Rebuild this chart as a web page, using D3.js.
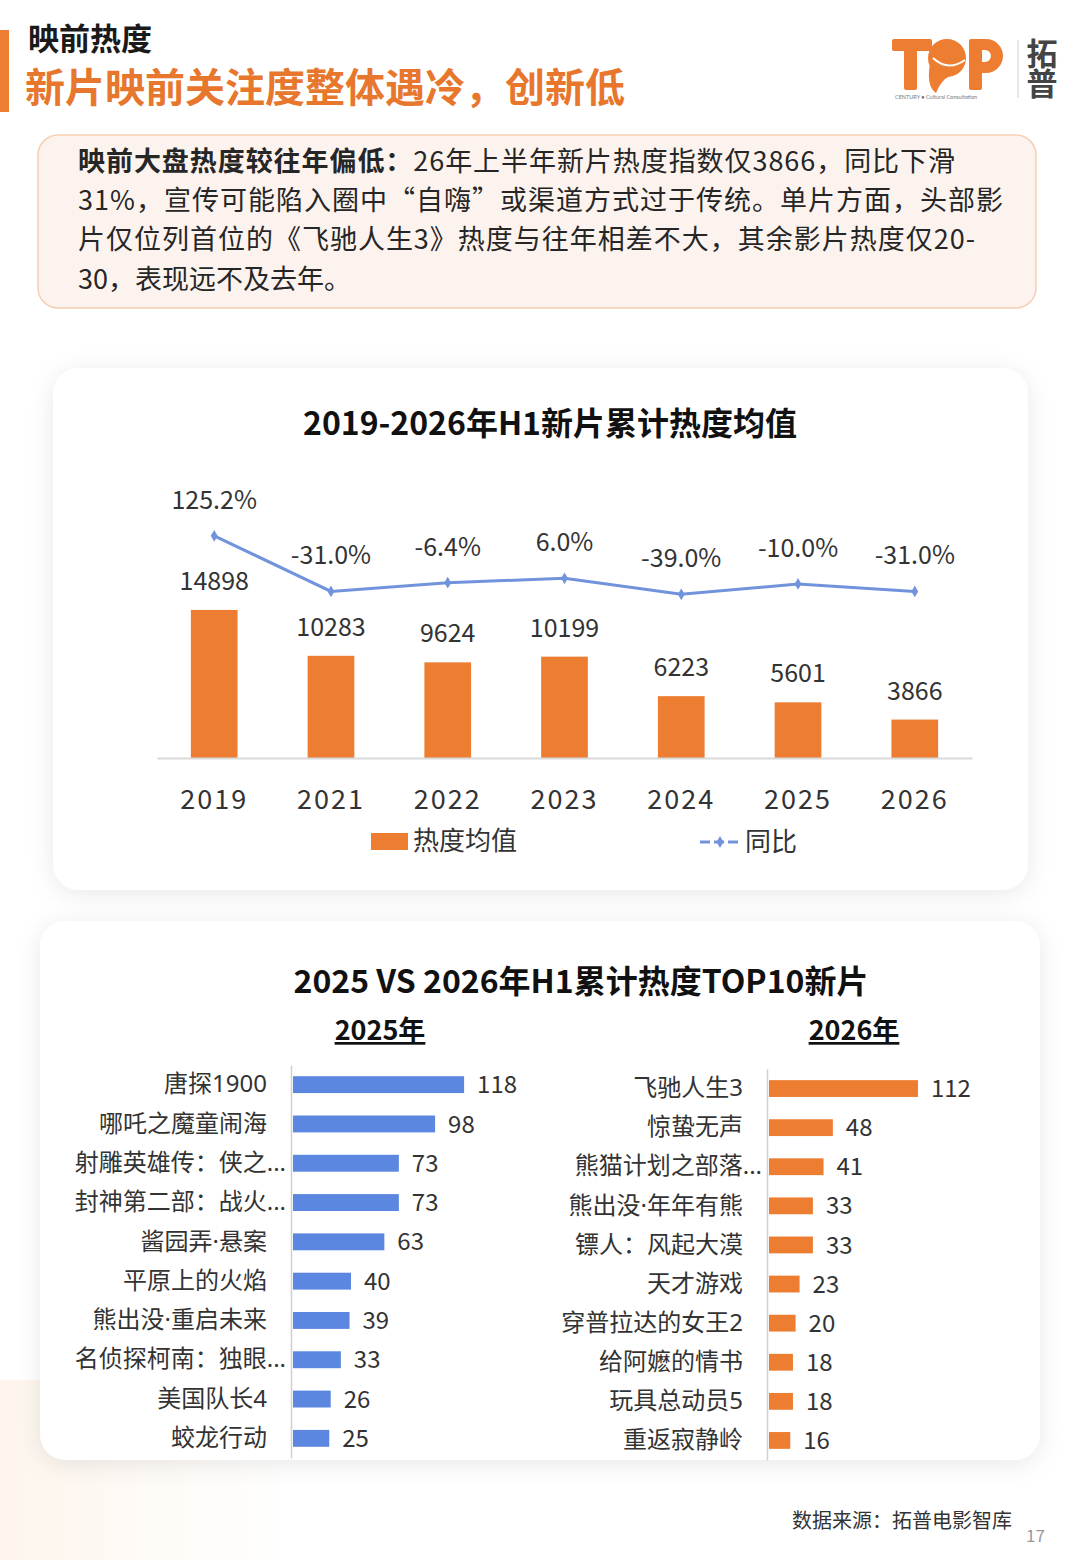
<!DOCTYPE html>
<html>
<head>
<meta charset="utf-8">
<script src="https://cdn.jsdelivr.net/npm/d3@7"></script>
<style>
  body { margin: 0; background: #fff; }
  svg { font-family: "Noto Sans CJK SC", "Noto Sans", sans-serif; }
</style>
</head>
<body>
<svg id="page"></svg>
<script>
// chart 1 data
var years = ["2019", "2021", "2022", "2023", "2024", "2025", "2026"];
var heatAvg = [14898, 10283, 9624, 10199, 6223, 5601, 3866];
var yoy = [125.2, -31.0, -6.4, 6.0, -39.0, -10.0, -31.0];

// chart 2 data
var films2025 = ["唐探1900", "哪吒之魔童闹海", "射雕英雄传：侠之...", "封神第二部：战火...", "酱园弄·悬案",
  "平原上的火焰", "熊出没·重启未来", "名侦探柯南：独眼...", "美国队长4", "蛟龙行动"];
var heat2025 = [118, 98, 73, 73, 63, 40, 39, 33, 26, 25];
var films2026 = ["飞驰人生3", "惊蛰无声", "熊猫计划之部落...", "熊出没·年年有熊", "镖人：风起大漠",
  "天才游戏", "穿普拉达的女王2", "给阿嬷的情书", "玩具总动员5", "重返寂静岭"];
var heat2026 = [112, 48, 41, 33, 33, 23, 20, 18, 18, 16];

var orange = "#ED7D31", blue = "#5B87E0", lineBlue = "#7193DC", ink = "#333";

var svg = d3.select("#page").attr("width", 1080).attr("height", 1560);

var defs = svg.append("defs");
var sh = defs.append("filter").attr("id", "shadow")
  .attr("x", "-10%").attr("y", "-10%").attr("width", "120%").attr("height", "125%");
sh.append("feDropShadow").attr("dx", 0).attr("dy", 4).attr("stdDeviation", 12)
  .attr("flood-color", "#000").attr("flood-opacity", 0.09);
var grad = defs.append("linearGradient").attr("id", "peach");
grad.append("stop").attr("offset", "0%").attr("stop-color", "#FDF3E8").attr("stop-opacity", 0.8);
grad.append("stop").attr("offset", "100%").attr("stop-color", "#FDF3E8").attr("stop-opacity", 0);

// faint corner tint
svg.append("rect").attr("x", 0).attr("y", 1380).attr("width", 290).attr("height", 180).attr("fill", "url(#peach)");

// ---- header ----
svg.append("rect").attr("x", 0).attr("y", 30).attr("width", 9).attr("height", 82).attr("fill", orange);
svg.append("text").attr("x", 28).attr("y", 50).attr("font-size", 31).attr("font-weight", 700)
  .attr("fill", "#1a1a1a").text("映前热度");
svg.append("text").attr("x", 25).attr("y", 102).attr("font-size", 40).attr("font-weight", 700)
  .attr("fill", "#E8772E").text("新片映前关注度整体遇冷，创新低");

// logo (drawn as shapes)
var logo = svg.append("g").attr("fill", orange);
logo.append("rect").attr("x", 892).attr("y", 39).attr("width", 40).attr("height", 12).attr("rx", 2);
logo.append("rect").attr("x", 904).attr("y", 39).attr("width", 13).attr("height", 51).attr("rx", 2);
logo.append("circle").attr("cx", 947).attr("cy", 58).attr("r", 19);
logo.append("path").attr("d", "M930 64 Q926 86 936 93 Q941 80 950 76 Z");
logo.append("path").attr("d", "M933 58 Q948 72 965 60").attr("fill", "none").attr("stroke", "#fff").attr("stroke-width", 2);
logo.append("rect").attr("x", 969).attr("y", 39).attr("width", 13).attr("height", 51).attr("rx", 2);
logo.append("path").attr("d", "M975 39 H986 A17 17 0 0 1 986 73 H975 V62 H985 A6 6 0 0 0 985 50 H975 Z");
svg.append("text").attr("x", 895).attr("y", 99).attr("font-size", 5.5).attr("fill", "#777")
  .style("font-family", "Lato, sans-serif").text("CENTURY ● Cultural Consultation");
svg.append("line").attr("x1", 1018).attr("x2", 1018).attr("y1", 40).attr("y2", 98)
  .attr("stroke", "#ccc").attr("stroke-width", 1);
svg.append("text").attr("x", 1042).attr("y", 38).attr("font-size", 31).attr("font-weight", 700)
  .attr("fill", "#444").attr("writing-mode", "vertical-rl").attr("letter-spacing", -1).text("拓普");

// ---- summary box ----
svg.append("rect").attr("x", 38).attr("y", 135).attr("width", 998).attr("height", 173).attr("rx", 20)
  .attr("fill", "#FDF3EE").attr("stroke", "#F6CFB2").attr("stroke-width", 1.5);
var lines = [
  { y: 171, len: 877, parts: [["映前大盘热度较往年偏低：", 700], ["26年上半年新片热度指数仅3866，同比下滑", 400]] },
  { y: 210, len: 925, parts: [["31%，宣传可能陷入圈中“自嗨”或渠道方式过于传统。单片方面，头部影", 400]] },
  { y: 249, len: 897, parts: [["片仅位列首位的《飞驰人生3》热度与往年相差不大，其余影片热度仅20-", 400]] },
  { y: 289, len: null, parts: [["30，表现远不及去年。", 400]] }
];
lines.forEach(function (l) {
  var t = svg.append("text").attr("x", 78).attr("y", l.y).attr("font-size", 27).attr("fill", "#262626");
  if (l.len) t.attr("textLength", l.len).attr("lengthAdjust", "spacing");
  l.parts.forEach(function (p) { t.append("tspan").attr("font-weight", p[1]).text(p[0]); });
});

// ---- panels ----
svg.append("rect").attr("x", 53).attr("y", 368).attr("width", 975).attr("height", 522).attr("rx", 26)
  .attr("fill", "#fff").attr("filter", "url(#shadow)");
svg.append("rect").attr("x", 40).attr("y", 921).attr("width", 1000).attr("height", 539).attr("rx", 26)
  .attr("fill", "#fff").attr("filter", "url(#shadow)");

// ---- chart 1 ----
svg.append("text").attr("x", 550).attr("y", 435).attr("text-anchor", "middle").attr("font-size", 32)
  .attr("font-weight", 700).attr("fill", "#111").text("2019-2026年H1新片累计热度均值");

var c1 = years.map(function (y, i) { return { year: y, heat: heatAvg[i], yoy: yoy[i] }; });

var x = d3.scaleBand().domain(years).range([157, 972]).paddingInner(0.6).paddingOuter(0.29);
var yBar = d3.scaleLinear().domain([0, 16000]).range([758, 599]);
var yLine = d3.scaleLinear().domain([-100, 150]).range([616, 527]);

svg.selectAll(".bar1").data(c1).enter().append("rect").attr("class", "bar1")
  .attr("x", function (d) { return x(d.year); })
  .attr("width", x.bandwidth())
  .attr("y", function (d) { return yBar(d.heat); })
  .attr("height", function (d) { return yBar(0) - yBar(d.heat); })
  .attr("fill", orange);

svg.selectAll(".barLabel1").data(c1).enter().append("text").attr("class", "barLabel1")
  .attr("x", function (d) { return x(d.year) + x.bandwidth() / 2; })
  .attr("y", function (d) { return yBar(d.heat) - 20; })
  .attr("text-anchor", "middle").attr("font-size", 25).attr("fill", ink)
  .text(function (d) { return d.heat; });

var xAxis = svg.append("g").attr("transform", "translate(0,758)")
  .call(d3.axisBottom(x).tickSize(0).tickSizeOuter(0).tickPadding(32));
xAxis.select(".domain").attr("stroke", "#D9D9D9").attr("stroke-width", 2);
xAxis.selectAll("text").attr("font-size", 27).attr("fill", ink).attr("letter-spacing", 2)
  .style("font-family", "\"Noto Sans CJK SC\", sans-serif");

var cx = function (d) { return x(d.year) + x.bandwidth() / 2; };
svg.append("path").datum(c1)
  .attr("d", d3.line().x(cx).y(function (d) { return yLine(d.yoy); }))
  .attr("fill", "none").attr("stroke", lineBlue).attr("stroke-width", 3);
svg.selectAll(".pt").data(c1).enter().append("path").attr("class", "pt")
  .attr("transform", function (d) { return "translate(" + cx(d) + "," + yLine(d.yoy) + ")"; })
  .attr("d", d3.symbol(d3.symbolDiamond).size(40)).attr("fill", lineBlue);
svg.selectAll(".ptLabel").data(c1).enter().append("text").attr("class", "ptLabel")
  .attr("x", cx).attr("y", function (d) { return yLine(d.yoy) - 27; })
  .attr("text-anchor", "middle").attr("font-size", 25).attr("fill", ink)
  .text(function (d) { return d.yoy.toFixed(1) + "%"; });

// legend
svg.append("rect").attr("x", 371).attr("y", 833).attr("width", 37).attr("height", 17).attr("fill", orange);
svg.append("text").attr("x", 413).attr("y", 850).attr("font-size", 26).attr("fill", ink).text("热度均值");
svg.append("line").attr("x1", 700).attr("x2", 740).attr("y1", 842).attr("y2", 842)
  .attr("stroke", lineBlue).attr("stroke-width", 3).attr("stroke-dasharray", "10,4");
svg.append("path").attr("transform", "translate(720,842)")
  .attr("d", d3.symbol(d3.symbolDiamond).size(40)).attr("fill", lineBlue);
svg.append("text").attr("x", 745).attr("y", 851).attr("font-size", 26).attr("fill", ink).text("同比");

// ---- chart 2 ----
svg.append("text").attr("x", 581).attr("y", 993).attr("text-anchor", "middle").attr("font-size", 32)
  .attr("font-weight", 700).attr("fill", "#111").text("2025 VS 2026年H1累计热度TOP10新片");

[["2025年", 380], ["2026年", 854]].forEach(function (s) {
  svg.append("text").attr("x", s[1]).attr("y", 1040).attr("text-anchor", "middle").attr("font-size", 27)
    .attr("font-weight", 700).attr("fill", "#111").attr("text-decoration", "underline").text(s[0]);
});

function hbar(names, values, color, x0, yTop, yBot, pxPerUnit) {
  var rows = names.map(function (n, i) { return { name: n, v: values[i] }; });
  var yb = d3.scaleBand().domain(names).range([yTop, yBot]).paddingInner(0.57).paddingOuter(0.285);
  var xs = d3.scaleLinear().domain([0, 130]).range([x0 + 2, x0 + 2 + 130 * pxPerUnit]);
  var g = svg.append("g");
  g.selectAll("rect").data(rows).enter().append("rect")
    .attr("x", xs(0)).attr("y", function (d) { return yb(d.name); })
    .attr("width", function (d) { return xs(d.v) - xs(0); })
    .attr("height", yb.bandwidth()).attr("fill", color);
  g.selectAll(".val").data(rows).enter().append("text").attr("class", "val")
    .attr("x", function (d) { return xs(d.v) + 13; })
    .attr("y", function (d) { return yb(d.name) + yb.bandwidth() / 2; })
    .attr("dy", "0.36em").attr("font-size", 24).attr("fill", ink)
    .text(function (d) { return d.v; });
  var ax = g.append("g").attr("transform", "translate(" + x0 + ",0)")
    .call(d3.axisLeft(yb).tickSize(0).tickSizeOuter(0).tickPadding(24));
  ax.select(".domain").attr("stroke", "#D0D0D0").attr("stroke-width", 1.5);
  ax.selectAll("text").attr("font-size", 24).attr("fill", ink)
    .style("font-family", "\"Noto Sans\", \"Noto Sans CJK SC\", sans-serif")
    .attr("dx", function (d) { return d.slice(-3) === "..." ? 19 : 0; });
}

hbar(films2025, heat2025, blue, 291, 1065, 1458, 1.45);
hbar(films2026, heat2026, orange, 767, 1069, 1460, 1.33);

// ---- footer ----
svg.append("text").attr("x", 792).attr("y", 1528).attr("font-size", 20).attr("fill", "#333")
  .text("数据来源：拓普电影智库");
svg.append("text").attr("x", 1026).attr("y", 1542).attr("font-size", 17).attr("fill", "#999").text("17");
</script>
</body>
</html>
